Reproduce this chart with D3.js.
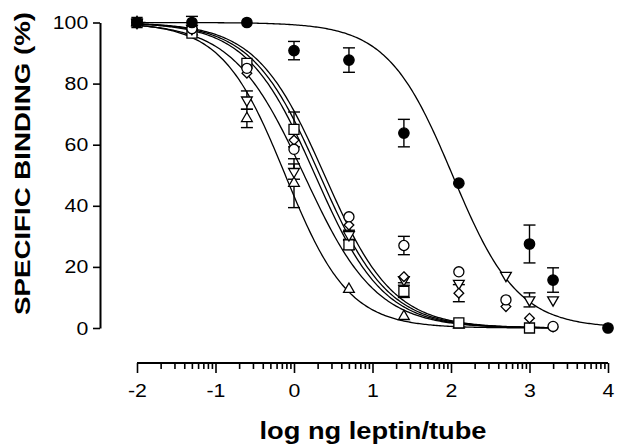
<!DOCTYPE html>
<html>
<head>
<meta charset="utf-8">
<script src="https://cdn.jsdelivr.net/npm/d3@7"></script>
<style>
  body { margin: 0; background: #fff; }
  svg { display: block; font-family: "Liberation Sans", Arial, sans-serif; }
</style>
</head>
<body>
<div id="wrapper"></div>
<script>
// log ng leptin per tube
const doses = [-2, -1.3, -0.6, 0, 0.7, 1.4, 2.1, 2.7, 3.0, 3.3, 4]

// specific binding (%) per series, null = no point
const filledCircle = [100, 100, 100, 90.8, 87.7, 63.8, 47.4, null, 27.5, 15.7, 0]
const openCircle   = [100, 98, 85, 58.5, 36.4, 27, 18.4, 9.2, null, 0.5, null]
const diamond      = [100, 98, 83.4, 61.5, 33.7, 16.8, 11.4, 7, 3.2, 0.3, null]
const downTriangle = [100, 98, 74.6, 51.2, 30.5, 15.8, 14.6, 17.2, 9.2, 9.2, null]
const square       = [100, 96.5, 86.6, 65, 27.2, 12, 1.7, null, 0, null, null]
const upTriangle   = [100, 97, 68.6, 47.4, 12.7, 3.8, 1, null, null, null, null]

// error (+/-) per point
const filledCircleErr = [0, 2, 0, 3, 4, 4.5, 0, null, 6.2, 4, 0]
const openCircleErr   = [0, 0, 0, 0, 0, 3, 0, 0, null, 0, null]
const diamondErr      = [0, 0, 0, 0, 0, 0, 2.8, 0, 0, 0, null]
const downTriangleErr = [0, 0, 3, 2.5, 1.5, 1, 0, 0, 2.3, 0, null]
const squareErr       = [0, 0, 0, 5.7, 1.5, 2, 0, null, 0, null, null]
const upTriangleErr   = [0, 0, 3, 8, 0, 0, 0, null, null, null, null]

// sigmoid fit parameters: log IC50, hill slope, x range
const fitLogIC50 = [2.02, 0.39, 0.33, 0.13, 0.27, -0.11]
const fitHill    = [1.05, 1.0, 1.0, 0.95, 1.0, 1.08]
const fitEnd     = [4, 3.3, 3.3, 3.3, 3.3, 3.3]

const xTicks = [-2, -1, 0, 1, 2, 3, 4]
const yTicks = [0, 20, 40, 60, 80, 100]

const series = [
  {values: filledCircle, err: filledCircleErr, shape: "filled"},
  {values: openCircle, err: openCircleErr, shape: "circle"},
  {values: diamond, err: diamondErr, shape: "diamond"},
  {values: downTriangle, err: downTriangleErr, shape: "down"},
  {values: square, err: squareErr, shape: "square"},
  {values: upTriangle, err: upTriangleErr, shape: "up"},
]

let dimensions = {
  width: 617,
  height: 448,
  margin: {top: 22.5, left: 100},
}
dimensions.boundedHeight = 305.5

const wrapper = d3.select("#wrapper")
  .append("svg")
    .attr("width", dimensions.width)
    .attr("height", dimensions.height)

const bounds = wrapper.append("g")
    .attr("transform", `translate(${dimensions.margin.left},${dimensions.margin.top})`)

// scales
const xScale = d3.scaleLinear()
  .domain([-2, 4])
  .range([37, 508])

const yScale = d3.scaleLinear()
  .domain([0, 100])
  .range([dimensions.boundedHeight, 0])

// fitted curves
const lineGenerator = d3.line()
  .x(d => xScale(d[0]))
  .y(d => yScale(d[1]))

series.forEach((s, i) => {
  const pts = d3.range(-2, fitEnd[i] + 0.001, 0.02).map(x =>
    [x, 100 / (1 + Math.pow(10, (x - fitLogIC50[i]) * fitHill[i]))])
  bounds.append("path")
      .attr("d", lineGenerator(pts))
      .attr("fill", "none")
      .attr("stroke", "#000")
      .attr("stroke-width", 1.3)
})

// error bars
series.forEach(s => {
  s.values.forEach((v, j) => {
    const e = s.err[j]
    if (v == null || !e) return
    const x = xScale(doses[j])
    const g = bounds.append("g")
        .attr("stroke", "#000")
        .attr("stroke-width", 1.4)
    g.append("line")
        .attr("x1", x).attr("x2", x)
        .attr("y1", yScale(v + e)).attr("y2", yScale(Math.max(0, v - e)))
    ;[v + e, v - e].forEach(c => {
      g.append("line")
          .attr("x1", x - 6).attr("x2", x + 6)
          .attr("y1", yScale(c)).attr("y2", yScale(c))
    })
  })
})

// markers
const symbolFor = {
  filled: d3.symbol(d3.symbolCircle, 85),
  circle: d3.symbol(d3.symbolCircle, 80),
  diamond: d3.symbol(d3.symbolDiamond2, 60),
  down: d3.symbol(d3.symbolTriangle, 50),
  square: d3.symbol(d3.symbolSquare, 100),
  up: d3.symbol(d3.symbolTriangle, 50),
}

series.slice().reverse().forEach(s => {
  s.values.forEach((v, j) => {
    if (v == null) return
    bounds.append("path")
        .attr("d", symbolFor[s.shape]())
        .attr("transform", `translate(${xScale(doses[j])},${yScale(v)})${s.shape == "down" ? " rotate(180)" : ""}`)
        .attr("fill", s.shape == "filled" ? "#000" : "#fff")
        .attr("stroke", "#000")
        .attr("stroke-width", 1.3)
  })
})

// y axis
const yAxisGenerator = d3.axisLeft()
  .scale(yScale)
  .tickValues(yTicks)
  .tickSize(7)
  .tickSizeOuter(0)
  .tickPadding(3.5)

const yAxis = bounds.append("g")
  .call(yAxisGenerator)
yAxis.select(".domain").attr("stroke-width", 2)
yAxis.selectAll(".tick line").attr("stroke-width", 1.6)
yAxis.selectAll("text")
    .attr("font-size", 19)
    .attr("font-family", "Liberation Sans, Arial, sans-serif")
    .attr("fill", "#000")
    .attr("transform", "scale(1.12,1)")

// x axis, set apart below the plot, with log minor ticks
const xAxisY = 340.5
const minorTicks = []
d3.range(-2, 4).forEach(d => {
  d3.range(2, 10).forEach(k => minorTicks.push(d + Math.log10(k)))
})

const xAxis = bounds.append("g")
    .attr("transform", `translate(0,${xAxisY})`)
xAxis.append("g")
  .call(d3.axisBottom(xScale).tickValues(minorTicks).tickSize(6).tickSizeOuter(0).tickFormat(""))
  .call(g => g.select(".domain").remove())
  .selectAll("line").attr("stroke-width", 1.6)

const xMajor = xAxis.append("g")
  .call(d3.axisBottom(xScale).tickValues(xTicks).tickSize(10).tickSizeOuter(0).tickPadding(10.5)
    .tickFormat(d => d < 0 ? "-" + Math.abs(d) : d))
xMajor.select(".domain").attr("stroke-width", 2).attr("d", `M${xScale(-2)},0H${xScale(4)}`)
xMajor.selectAll(".tick line").attr("stroke-width", 1.6)
xMajor.selectAll("text")
    .attr("font-size", 19)
    .attr("font-family", "Liberation Sans, Arial, sans-serif")
    .attr("fill", "#000")
    .attr("transform", "scale(1.12,1)")

// axis titles
wrapper.append("text")
    .attr("transform", "translate(30,163.5) rotate(-90)")
    .attr("text-anchor", "middle")
    .attr("font-size", 22)
    .attr("font-weight", "bold")
    .attr("textLength", 303)
    .attr("lengthAdjust", "spacingAndGlyphs")
    .text("SPECIFIC BINDING (%)")

wrapper.append("text")
    .attr("x", 373)
    .attr("y", 439)
    .attr("text-anchor", "middle")
    .attr("font-size", 23.5)
    .attr("font-weight", "bold")
    .attr("textLength", 227)
    .attr("lengthAdjust", "spacingAndGlyphs")
    .text("log ng leptin/tube")
</script>
</body>
</html>
